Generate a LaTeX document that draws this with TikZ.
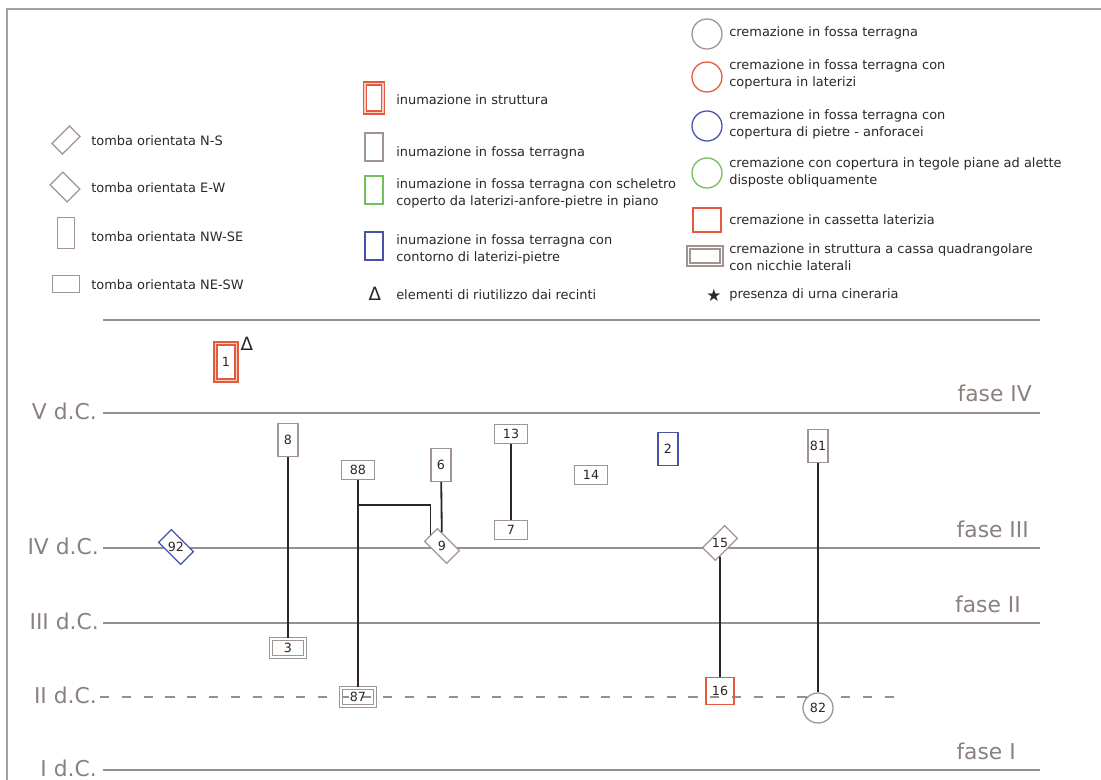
\documentclass[tikz,border=0pt]{standalone}
\usepackage{fontspec}
\setmainfont{DejaVu Sans}
\usepackage{graphicx}
\usetikzlibrary{positioning}
\definecolor{frameg}{RGB}{168,160,158}
\definecolor{lineg}{RGB}{152,142,140}
\definecolor{labelg}{RGB}{138,128,126}
\definecolor{boxg}{RGB}{160,148,145}
\definecolor{ink}{RGB}{45,38,38}
\definecolor{redc}{RGB}{228,90,60}
\definecolor{bluec}{RGB}{72,82,168}
\definecolor{greenc}{RGB}{112,190,92}

\begin{document}
\begin{tikzpicture}[
  x=0.025cm, y=-0.025cm,
  font=\fontsize{9.2}{12}\selectfont,
  tbox/.style={draw=boxg, fill=white, line width=0.9pt, inner sep=0pt,
               minimum width=0.5cm, minimum height=0.82cm,
               font=\fontsize{9}{10}\selectfont, text=ink},
  wbox/.style={tbox, minimum width=0.82cm, minimum height=0.48cm},
  redbox/.style={tbox, draw=redc, fill=none, line width=1pt, double=redc!30,
                 double distance=1pt, minimum width=0.53cm, minimum height=0.93cm},
  dbox/.style={tbox, fill=none, double=white, double distance=1.2pt,
               minimum width=0.86cm, minimum height=0.46cm},
  cbox/.style={tbox, draw=redc, fill=none, minimum width=0.7cm, minimum height=0.68cm},
  ewtomb/.style={tbox, rotate=-45, minimum width=0.78cm, minimum height=0.45cm},
  nstomb/.style={tbox, rotate=45, minimum width=0.78cm, minimum height=0.45cm},
  urn/.style={tbox, circle, minimum size=0.75cm},
  lgd/.style={anchor=west, align=left, inner sep=0pt, text=ink},
  reuse/.style={inner sep=0pt, text=ink, font=\fontsize{13}{14}\selectfont},
  period/.style={draw=lineg, line width=1.1pt},
  cent/.style={anchor=east, inner sep=0pt, text=labelg, font=\fontsize{15.5}{18}\selectfont},
  phase/.style={anchor=base east, inner sep=0pt, text=labelg, font=\fontsize{15.5}{18}\selectfont},
  link/.style={draw=ink, line width=1.3pt},
]
\useasboundingbox (0,0) rectangle (1101,780);
\draw[draw=frameg, line width=1pt] (7,780) -- (7,9) -- (1101,9);

% ---------- legend: orientation ----------
\node[nstomb, minimum width=0.62cm, minimum height=0.37cm] (kns) at (66,140) {};
\node[lgd] at (91,141) {tomba orientata N-S};
\node[ewtomb, minimum width=0.6cm, minimum height=0.45cm] (kew) at (65,187) {};
\node[lgd] at (91,188) {tomba orientata E-W};
\node[tbox, minimum width=0.42cm, minimum height=0.78cm] (knw) at (66,233) {};
\node[lgd] at (91,237) {tomba orientata NW-SE};
\node[wbox, minimum width=0.68cm, minimum height=0.42cm] (kne) at (66,284) {};
\node[lgd] at (91,285) {tomba orientata NE-SW};

% ---------- legend: inhumations ----------
\node[redbox, minimum width=0.45cm, minimum height=0.72cm] (kst) at (374,98) {};
\node[lgd] at (396,100) {inumazione in struttura};
\node[tbox, minimum width=0.45cm, minimum height=0.7cm] (kft) at (374,147) {};
\node[lgd] at (396,153) {inumazione in fossa terragna};
\node[tbox, draw=greenc, minimum width=0.45cm, minimum height=0.7cm] (kgr) at (374,190) {};
\node[lgd] at (396,193) {inumazione in fossa terragna con scheletro\\coperto da laterizi-anfore-pietre in piano};
\node[tbox, draw=bluec, minimum width=0.45cm, minimum height=0.7cm] (kbl) at (374,246) {};
\node[lgd] at (396,249) {inumazione in fossa terragna con\\contorno di laterizi-pietre};
\node[reuse] (ktr) at (375,294) {Δ};
\node[lgd] at (396,295) {elementi di riutilizzo dai recinti};

% ---------- legend: cremations ----------
\node[urn] (kc1) at (707,34) {};
\node[lgd] at (729,33) {cremazione in fossa terragna};
\node[urn, draw=redc] (kc2) at (707,77) {};
\node[lgd] at (729,74) {cremazione in fossa terragna con\\copertura in laterizi};
\node[urn, draw=bluec] (kc3) at (707,126) {};
\node[lgd] at (729,124) {cremazione in fossa terragna con\\copertura di pietre - anforacei};
\node[urn, draw=greenc] (kc4) at (707,173) {};
\node[lgd] at (729,172) {cremazione con copertura in tegole piane ad alette\\disposte obliquamente};
\node[cbox, minimum width=0.7cm, minimum height=0.6cm] (kc5) at (707,220) {};
\node[lgd] at (729,220) {cremazione in cassetta laterizia};
\node[dbox, minimum width=0.82cm, minimum height=0.42cm] (kc6) at (705,256) {};
\node[lgd] at (729,257) {cremazione in struttura a cassa quadrangolare\\con nicchie laterali};
\node[reuse, font=\fontsize{12}{13}\selectfont] (kc7) at (714,295) {★};
\node[lgd] at (729,295) {presenza di urna cineraria};

\draw[draw=lineg, line width=1.5pt] (103,320) -- (1040,320);

% ---------- centuries and phases ----------
\draw[period] (103,413) -- (1040,413);
\draw[period] (103,548) -- (1040,548);
\draw[period] (103,623) -- (1040,623);
\draw[period, dash pattern=on 6.5pt off 9pt] (100,697) -- (900,697);
\draw[period] (103,770) -- (1040,770);
\node[cent] at (97,411) {V d.C.};
\node[cent] at (99,546) {IV d.C.};
\node[cent] at (99,621) {III d.C.};
\node[cent] at (97,695) {II d.C.};
\node[cent] at (97,768) {I d.C.};
\node[phase] at (1032,402) {fase IV};
\node[phase] at (1029,538) {fase III};
\node[phase] at (1021,613) {fase II};
\node[phase] at (1016,760) {fase I};

% ---------- tombs ----------
\node[redbox] (t1) at (226,362) {1};
\node[reuse] (r1) at (247,344) {Δ};
\node[tbox] (t8) at (288,440) {8};
\node[wbox] (t88) at (358,470) {88};
\node[tbox] (t6) at (441,465) {6};
\node[wbox] (t13) at (511,434) {13};
\node[wbox] (t7) at (511,530) {7};
\node[wbox] (t14) at (591,475) {14};
\node[tbox, draw=bluec] (t2) at (668,449) {2};
\node[tbox] (t81) at (818,446) {81};
\node[ewtomb, draw=bluec] (t92) at (176,547) {\rotatebox{45}{92}};
\node[ewtomb] (t9) at (442,546) {\rotatebox{45}{9}};
\node[nstomb] (t15) at (720,543) {\rotatebox{-45}{15}};
\node[dbox] (t3) at (288,648) {3};
\node[dbox] (t87) at (358,697) {87};
\node[cbox] (t16) at (720,691) {16};
\node[urn] (t82) at (818,708) {82};

% ---------- stratigraphic links ----------
\coordinate (j88) at (358,505);
\draw[link] (t8) -- (t3);
\draw[link] (t88) -- (t87);
\draw[link] (j88) -| (t9.west);
\draw[link] (t6) -- (t9);
\draw[link] (t13) -- (t7);
\draw[link] (t15) -- (t16);
\draw[link] (t81) -- (t82);

\end{tikzpicture}
\end{document}
